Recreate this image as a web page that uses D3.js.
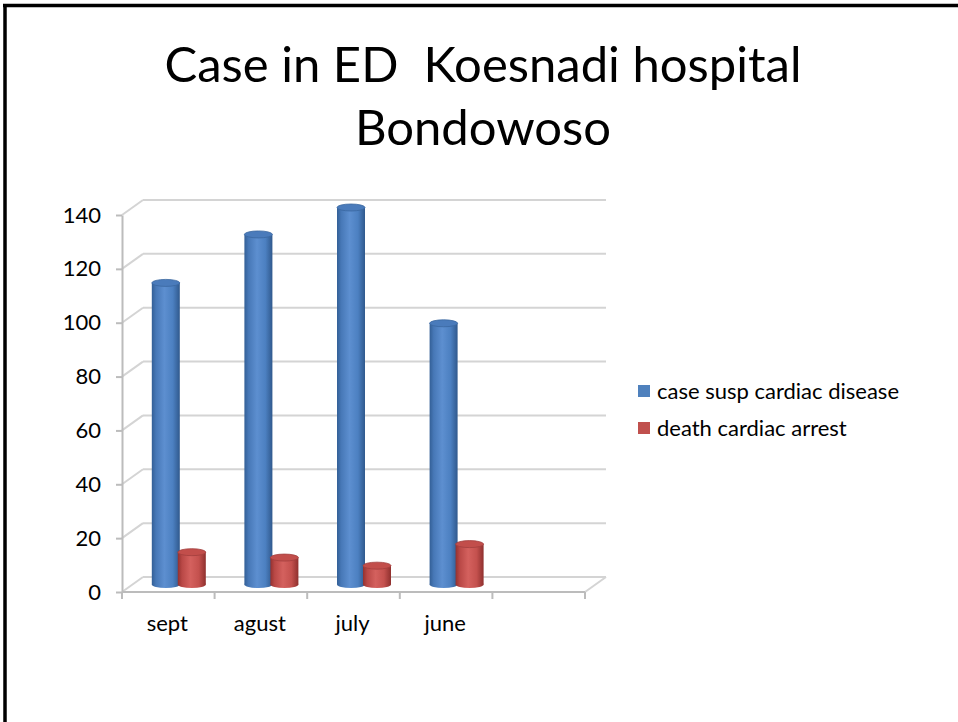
<!DOCTYPE html>
<html>
<head>
<meta charset="utf-8">
<script src="https://cdn.jsdelivr.net/npm/d3@7"></script>
<style>
  body { margin: 0; background: #fff; }
  svg { display: block; font-family: Lato, "Open Sans", sans-serif; }
  .title { white-space: pre; }
</style>
</head>
<body>
<div id="chart"></div>
<script>
// data
var categories = ["sept", "agust", "july", "june", ""];
var caseSusp = [112, 130, 140, 97];
var deathArrest = [12, 10, 7, 15];
var seriesNames = ["case susp cardiac disease", "death cardiac arrest"];
var yTicks = [0, 20, 40, 60, 80, 100, 120, 140];

var w = 958, h = 722;
var svg = d3.select("#chart").append("svg")
    .attr("width", w)
    .attr("height", h);

// slide border (top + left only visible)
svg.append("line").attr("x1", 3).attr("x2", w).attr("y1", 5.5).attr("y2", 5.5)
    .attr("stroke", "#000").attr("stroke-width", 3.5);
svg.append("line").attr("x1", 5).attr("x2", 5).attr("y1", 4).attr("y2", h)
    .attr("stroke", "#000").attr("stroke-width", 3.5);

// title
svg.append("text").attr("class", "title").attr("x", 483).attr("y", 82).attr("text-anchor", "middle")
    .attr("font-size", 49).attr("fill", "#000").text("Case in ED  Koesnadi hospital");
svg.append("text").attr("class", "title").attr("x", 483).attr("y", 145).attr("text-anchor", "middle")
    .attr("font-size", 49).attr("fill", "#000").text("Bondowoso");

// scales
var xScale = d3.scaleBand().domain(d3.range(categories.length)).range([122, 585]).padding(0);
var yScale = d3.scaleLinear().domain([0, 140]).range([592, 215]);
var dx = 21, dy = -15; // 3d depth offset of back wall

// gradients for cylinders
var defs = svg.append("defs");
function addGrad(id, stops) {
    var g = defs.append("linearGradient").attr("id", id)
        .attr("x1", "0%").attr("x2", "100%").attr("y1", "0%").attr("y2", "0%");
    stops.forEach(function(s) {
        g.append("stop").attr("offset", s[0]).attr("stop-color", s[1]);
    });
}
addGrad("gBlue", [["0%", "#335f96"], ["15%", "#4778b7"], ["45%", "#5d8fd0"], ["75%", "#4c80c1"], ["100%", "#30598d"]]);
addGrad("gRed", [["0%", "#93312f"], ["15%", "#b94846"], ["45%", "#d4615e"], ["75%", "#c4514e"], ["100%", "#8f302e"]]);

var gridColor = "#d4d4d4";
var axisColor = "#bcbcbc";

// back wall gridlines + left side diagonals
var grid = svg.append("g");
grid.selectAll("line.h")
    .data(yTicks)
    .enter()
    .append("line")
    .attr("x1", 122 + dx)
    .attr("x2", 585 + dx)
    .attr("y1", function(d) { return yScale(d) + dy; })
    .attr("y2", function(d) { return yScale(d) + dy; })
    .attr("stroke", gridColor)
    .attr("stroke-width", 2);
grid.selectAll("line.d")
    .data(yTicks)
    .enter()
    .append("line")
    .attr("x1", 122)
    .attr("x2", 122 + dx)
    .attr("y1", function(d) { return yScale(d); })
    .attr("y2", function(d) { return yScale(d) + dy; })
    .attr("stroke", gridColor)
    .attr("stroke-width", 2);
// floor right edge
grid.append("line").attr("x1", 585).attr("x2", 585 + dx)
    .attr("y1", yScale(0)).attr("y2", yScale(0) + dy)
    .attr("stroke", gridColor).attr("stroke-width", 2);

// y axis
var yAxis = svg.append("g")
    .attr("transform", "translate(122,0)")
    .call(d3.axisLeft(yScale).tickValues(yTicks).tickSize(6).tickSizeOuter(0).tickPadding(15));
yAxis.selectAll("path, line").attr("stroke", axisColor).attr("stroke-width", 2);
yAxis.selectAll("text").attr("font-size", 22).attr("fill", "#000").attr("font-family", "Lato");

// x axis: front floor edge with ticks at band edges
var edges = d3.range(categories.length).map(function(i) { return xScale(i); }).concat([xScale.range()[1]]);
svg.append("line").attr("x1", 122).attr("x2", 585)
    .attr("y1", yScale(0)).attr("y2", yScale(0))
    .attr("stroke", axisColor).attr("stroke-width", 2);
svg.selectAll("line.xt")
    .data(edges)
    .enter()
    .append("line")
    .attr("x1", function(d) { return d; })
    .attr("x2", function(d) { return d; })
    .attr("y1", yScale(0))
    .attr("y2", yScale(0) + 7)
    .attr("stroke", axisColor)
    .attr("stroke-width", 2);
svg.selectAll("text.xl")
    .data(categories)
    .enter()
    .append("text")
    .attr("x", function(d, i) { return xScale(i) + xScale.bandwidth() / 2 - 1; })
    .attr("y", 631)
    .attr("text-anchor", "middle")
    .attr("font-size", 22)
    .attr("fill", "#000")
    .text(function(d) { return d; });

// cylinders sit half way into the depth
var cw = 28, ry = 3.5;
var bars = [];
caseSusp.forEach(function(v, i) { bars.push({ i: i, v: v, s: 0 }); });
deathArrest.forEach(function(v, i) { bars.push({ i: i, v: v, s: 1 }); });

function cx(d) {
    return xScale(d.i) + xScale.bandwidth() / 2 + dx / 2 + (d.s === 0 ? -13 : 13);
}
function barBase(d) { return yScale(0) + dy / 2; }
function barTop(d) { return yScale(d.v) + dy / 2; }

var cyl = svg.selectAll("g.cyl")
    .data(bars)
    .enter()
    .append("g");

cyl.append("ellipse")
    .attr("cx", cx)
    .attr("cy", barBase)
    .attr("rx", cw / 2)
    .attr("ry", ry)
    .attr("fill", function(d) { return d.s === 0 ? "url(#gBlue)" : "url(#gRed)"; });
cyl.append("rect")
    .attr("x", function(d) { return cx(d) - cw / 2; })
    .attr("y", barTop)
    .attr("width", cw)
    .attr("height", function(d) { return barBase(d) - barTop(d); })
    .attr("fill", function(d) { return d.s === 0 ? "url(#gBlue)" : "url(#gRed)"; });
cyl.append("ellipse")
    .attr("cx", cx)
    .attr("cy", barTop)
    .attr("rx", cw / 2)
    .attr("ry", ry)
    .attr("fill", function(d) { return d.s === 0 ? "#4a7bbb" : "#c24e4b"; })
    .attr("stroke", function(d) { return d.s === 0 ? "#3a679f" : "#a23f3d"; })
    .attr("stroke-width", 0.8);

// legend
var legendColors = ["#4f81bd", "#c0504d"];
var legend = svg.selectAll("g.leg")
    .data(seriesNames)
    .enter()
    .append("g")
    .attr("transform", function(d, i) { return "translate(638," + (385 + i * 37) + ")"; });
legend.append("rect")
    .attr("width", 12)
    .attr("height", 12)
    .attr("fill", function(d, i) { return legendColors[i]; });
legend.append("text")
    .attr("x", 19)
    .attr("y", 14)
    .attr("font-size", 22)
    .attr("fill", "#000")
    .text(function(d) { return d; });
</script>
</body>
</html>
